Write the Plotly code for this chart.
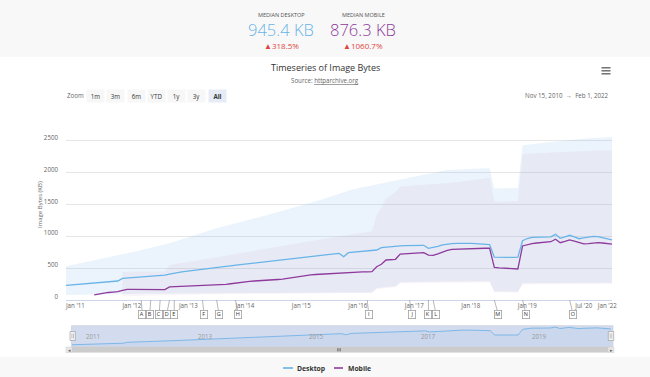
import plotly.graph_objects as go

# ---------------- data ----------------
categories = (['2010-11-15', '2010-12-01']
              + [f"{y}-{m:02d}-01" for y in range(2011, 2019) for m in range(1, 13)]
              + ['2019-01-01', '2019-02-15', '2019-04-01', '2019-05-15', '2019-07-01', '2019-08-15',
                 '2019-10-01', '2019-11-15', '2020-01-01', '2020-02-15', '2020-04-01', '2020-05-15',
                 '2020-07-01', '2020-11-01', '2021-03-01', '2021-07-01', '2021-10-01', '2022-01-01',
                 '2022-02-01'])

N = None
desktop_median = [230, 236,
    241, 247, 253, 258, 264, 270, 276, 282, 288, 298, 340, 345,
    351, 357, 362, 368, 374, 380, 386, 392, 405, 424, 434, 444,
    454, 464, 474, 484, 494, 504, 513, 523, 531, 539, 547, 555,
    562, 570, 577, 585, 594, 603, 611, 620, 628, 637, 646, 654,
    663, 671, 680, 689, 698, 707, 716, 724, 733, 680, 743, 750,
    757, 764, 771, 778, 785, 821, 830, 838, 845, 850, 852, 854,
    856, 857, 859, 812, 825, 840, 865, 879, 885, 890, 893, 895,
    890, 885, 880, 875, 870, 672, 668, 668, 670, 670, 672, 930,
    965, 984, 984, 985, 985, 990, 1031, 968, 990, 1016, 990, 962, 975,
    990, 1000, 995, 980, 960, 945]

mobile_median = [N, N,
    N, N, N, N, 80, 95, 110, 118, 124, 130, 150, 168,
    166, 165, 164, 163, 162, 161, 160, 162, 205, 208, 210, 213,
    216, 219, 222, 225, 228, 231, 233, 236, 245, 255, 266, 277,
    285, 292, 298, 305, 310, 314, 318, 322, 328, 340, 352, 365,
    378, 390, 395, 400, 405, 410, 415, 420, 423, 427, 430, 434,
    437, 440, 443, 446, 523, 560, 628, 635, 639, 722, 728, 732,
    736, 740, 743, 705, 700, 725, 758, 780, 796, 800, 803, 806,
    808, 810, 811, 812, 812, 513, 505, 500, 495, 490, 487, 848,
    870, 885, 895, 900, 905, 915, 953, 900, 920, 942, 925, 905, 880,
    885, 895, 900, 895, 885, 876]

desktop_high = [530, 545,
    560, 575, 590, 605, 620, 635, 650, 665, 680, 695, 715, 732,
    749, 766, 783, 800, 817, 834, 851, 868, 890, 915, 940, 964,
    988, 1012, 1036, 1060, 1090, 1110, 1128, 1146, 1164, 1182, 1200, 1220,
    1240, 1258, 1278, 1300, 1320, 1340, 1360, 1380, 1400, 1420, 1440, 1460,
    1480, 1500, 1520, 1543, 1570, 1595, 1620, 1645, 1670, 1695, 1720, 1740,
    1755, 1770, 1785, 1800, 1815, 1830, 1845, 1860, 1880, 1895, 1910, 1925,
    1940, 1955, 1970, 1985, 2000, 2010, 2025, 2040, 2045, 2050, 2055, 2060,
    2062, 2064, 2066, 2068, 2070, 1750, 1752, 1754, 1756, 1758, 1760, 2430,
    2440, 2445, 2450, 2460, 2470, 2480, 2490, 2495, 2500, 2505, 2510, 2520, 2530,
    2540, 2545, 2555, 2560, 2565, 2560]

desktop_low = [80, 80,
    82, 83, 84, 85, 86, 87, 88, 89, 90, 92, 95, 96,
    97, 98, 98, 99, 99, 100, 100, 101, 101, 102, 102, 103,
    103, 104, 104, 105, 105, 106, 106, 107, 107, 108, 108, 109,
    109, 110, 110, 110, 111, 111, 111, 112, 112, 112, 113, 113,
    113, 114, 114, 114, 115, 115, 115, 116, 116, 116, 117, 117,
    117, 118, 118, 118, 185, 195, 205, 210, 215, 280, 282, 284,
    285, 286, 287, 287, 288, 288, 289, 289, 290, 290, 291, 291,
    292, 292, 293, 293, 294, 135, 135, 134, 133, 132, 130, 262,
    262, 263, 263, 264, 264, 265, 265, 266, 266, 267, 267, 268, 268,
    268, 269, 269, 270, 270, 270]

mobile_high = [N, N,
    N, N, N, N, N, N, N, N, N, N, 445, 445,
    446, 447, 448, 448, 449, 450, 450, 452, 549, 560, 572, 584,
    596, 608, 620, 632, 645, 658, 671, 684, 697, 710, 723, 736,
    750, 765, 780, 795, 808, 820, 832, 845, 858, 870, 882, 894,
    906, 918, 930, 942, 954, 966, 978, 990, 1000, 1012, 1024, 1036,
    1048, 1060, 1070, 1080, 1334, 1450, 1596, 1640, 1700, 1779, 1785, 1790,
    1795, 1800, 1805, 1810, 1815, 1820, 1825, 1830, 1840, 1850, 1860, 1870,
    1880, 1890, 1900, 1910, 1920, 1543, 1545, 1546, 1547, 1548, 1550, 2290,
    2295, 2300, 2300, 2305, 2310, 2315, 2320, 2320, 2325, 2330, 2330, 2335, 2335,
    2340, 2340, 2345, 2345, 2350, 2345]

mobile_low = [N, N,
    N, N, N, N, N, N, N, N, N, N, 60, 62,
    64, 66, 67, 68, 69, 70, 71, 72, 78, 80, 81, 82,
    83, 84, 85, 86, 87, 88, 89, 90, 91, 92, 93, 94,
    95, 96, 97, 98, 99, 100, 100, 101, 101, 102, 102, 103,
    103, 104, 104, 105, 105, 106, 106, 107, 107, 108, 108, 109,
    109, 110, 110, 111, 170, 180, 190, 195, 200, 260, 262, 264,
    265, 266, 267, 267, 268, 268, 269, 269, 270, 270, 271, 271,
    272, 272, 273, 273, 274, 120, 120, 119, 118, 117, 115, 245,
    245, 246, 246, 247, 247, 248, 248, 249, 249, 250, 250, 251, 251,
    251, 252, 252, 253, 253, 253]

tick_dates = ['2011-01-01', '2012-01-01', '2013-01-01', '2014-01-01', '2015-01-01', '2016-01-01',
              '2017-01-01', '2018-01-01', '2019-01-01', '2020-07-01', '2022-01-01']
tick_labels = ["Jan '11", "Jan '12", "Jan '13", "Jan '14", "Jan '15", "Jan '16",
               "Jan '17", "Jan '18", "Jan '19", "Jul '20", "Jan '22"]
y_ticks = [0, 500, 1000, 1500, 2000, 2500]

nav_year_dates = ['2011-01-01', '2013-01-01', '2015-01-01', '2017-01-01', '2019-01-01']
nav_year_labels = ['2011', '2013', '2015', '2017', '2019']

flag_dates = ['2012-03-01', '2012-05-01', '2012-07-01', '2012-09-01', '2012-10-01', '2013-04-01',
              '2013-07-01', '2013-11-01', '2016-03-01', '2016-12-01', '2017-04-01', '2017-05-01',
              '2018-06-01', '2018-12-01', '2020-02-15']
flag_labels = list('ABCDEFGHIJKLMNO')
flag_box_shift = [1, -1, -1, -3, 0, 1.5, 2.5, 3, 1.5, 2, 0, 3, 4, 3.5, 3.5]  # style only

median_desktop_text = '945.4 KB'
median_desktop_change = '▲318.5%'
median_mobile_text = '876.3 KB'
median_mobile_change = '▲1060.7%'

# ---------------- styling ----------------
W, H = 650, 377
def px(x): return x / W
def py(y): return 1 - y / H

C_DESK = '#68b4e8'
C_MOB = '#8e3a9c'
FONT = 'Open Sans'

def pairs(vals):
    xs = [c for c, v in zip(categories, vals) if v is not None]
    ys = [v for v in vals if v is not None]
    return xs, ys

fig = go.Figure()
x, y = pairs(desktop_low)
fig.add_trace(go.Scatter(x=x, y=y, mode='lines', line=dict(width=0), hoverinfo='skip', showlegend=False))
x, y = pairs(desktop_high)
fig.add_trace(go.Scatter(x=x, y=y, mode='lines', line=dict(width=0), fill='tonexty',
                         fillcolor='rgba(124,181,236,0.15)', hoverinfo='skip', showlegend=False))
x, y = pairs(mobile_low)
fig.add_trace(go.Scatter(x=x, y=y, mode='lines', line=dict(width=0), hoverinfo='skip', showlegend=False))
x, y = pairs(mobile_high)
fig.add_trace(go.Scatter(x=x, y=y, mode='lines', line=dict(width=0), fill='tonexty',
                         fillcolor='rgba(175,100,150,0.065)', hoverinfo='skip', showlegend=False))
x, y = pairs(desktop_median)
fig.add_trace(go.Scatter(x=x, y=y, mode='lines', name='Desktop', line=dict(color=C_DESK, width=1.3), showlegend=False))
x, y = pairs(mobile_median)
fig.add_trace(go.Scatter(x=x, y=y, mode='lines', name='Mobile', line=dict(color=C_MOB, width=1.3), showlegend=False))
x, y = pairs(desktop_median)
fig.add_trace(go.Scatter(x=x, y=y, mode='lines', xaxis='x2', yaxis='y2', line=dict(color='#6aaee6', width=0.8),
                         fill='tozeroy', fillcolor='rgba(124,181,236,0.10)', hoverinfo='skip', showlegend=False))

n_last = len(categories) - 1
shapes = []
# white card (full width) between header and footer
shapes.append(dict(type='rect', xref='paper', yref='paper', x0=0, x1=1, y0=py(357), y1=py(57),
                   fillcolor='white', line=dict(width=0), layer='below'))
shapes.append(dict(type='rect', xref='paper', yref='paper', x0=px(71.5), x1=px(613), y0=py(346.5), y1=py(325.7),
                   fillcolor='#d3dcee', line=dict(color='#c4c8d2', width=0.6), layer='below'))
for hx in (72.7, 611):
    shapes.append(dict(type='rect', xref='paper', yref='paper', x0=px(hx - 2.7), x1=px(hx + 2.7),
                       y0=py(340.5), y1=py(331.5), fillcolor='#f2f2f2', line=dict(color='#999999', width=0.6)))
    for dx in (-0.8, 0.8):
        shapes.append(dict(type='line', xref='paper', yref='paper', x0=px(hx + dx), x1=px(hx + dx),
                           y0=py(338.5), y1=py(333.5), line=dict(color='#999999', width=0.5)))
shapes.append(dict(type='rect', xref='paper', yref='paper', x0=px(66), x1=px(614), y0=py(352.5), y1=py(347),
                   fillcolor='#f2f2f2', line=dict(width=0)))
shapes.append(dict(type='rect', xref='paper', yref='paper', x0=px(72), x1=px(608), y0=py(352.5), y1=py(347),
                   fillcolor='#cccccc', line=dict(width=0)))
for bx0, bx1 in ((66, 72), (608, 614)):
    shapes.append(dict(type='rect', xref='paper', yref='paper', x0=px(bx0), x1=px(bx1), y0=py(352.5), y1=py(347),
                       fillcolor='#e6e6e6', line=dict(color='#cccccc', width=0.5)))
for gx in (337.6, 339, 340.4):
    shapes.append(dict(type='line', xref='paper', yref='paper', x0=px(gx), x1=px(gx), y0=py(351.3), y1=py(348.2),
                       line=dict(color='#333333', width=0.5)))
for my in (67.8, 70.8, 73.8):
    shapes.append(dict(type='line', xref='paper', yref='paper', x0=px(601.5), x1=px(610.5), y0=py(my), y1=py(my),
                       line=dict(color='#666666', width=1.4)))
shapes.append(dict(type='line', xref='paper', yref='paper', x0=px(283), x1=px(293), y0=py(368), y1=py(368),
                   line=dict(color=C_DESK, width=1.6)))
shapes.append(dict(type='line', xref='paper', yref='paper', x0=px(334), x1=px(343), y0=py(368), y1=py(368),
                   line=dict(color=C_MOB, width=1.6)))
for d, s in zip(flag_dates, flag_box_shift):
    idx = categories.index(d)
    shapes.append(dict(type='line', xref='x', xsizemode='pixel', xanchor=idx, x0=0, x1=s,
                       yref='paper', y0=py(300), y1=py(314.5), line=dict(color='#999999', width=0.7)))

ann = []
def text(x, y, t, size=6.5, color='#666666', xanchor='center', weight='normal', **kw):
    ann.append(dict(xref='paper', yref='paper', x=px(x), y=py(y), text=t, showarrow=False,
                    xanchor=xanchor, yanchor='middle',
                    font=dict(size=size, color=color, family=FONT, weight=weight), **kw))

text(281, 15, 'MEDIAN DESKTOP', size=5.5, color='#555555')
text(281, 29, median_desktop_text, size=16.5, color=C_DESK, weight=300, height=18)
text(281, 45, median_desktop_change, size=8, color='#e0443e', height=10)
text(363, 15, 'MEDIAN MOBILE', size=5.5, color='#555555')
text(363, 29, median_mobile_text, size=16.5, color=C_MOB, weight=300, height=18)
text(363, 45, median_mobile_change, size=8, color='#e0443e', height=10)
text(325, 68, 'Timeseries of Image Bytes', size=9, color='#333333', weight=500)
text(325, 80, 'Source: <u>httparchive.org</u>', size=6.2, color='#666666')
text(75.5, 96, 'Zoom', size=6.2, color='#666666')
for bx, lab in zip((95.7, 116, 136, 156.5, 176.5, 196.8, 217), ('1m', '3m', '6m', 'YTD', '1y', '3y', 'All')):
    sel = lab == 'All'
    text(bx, 96, f'<b>{lab}</b>' if sel else lab, size=6.2, color='#333333',
         bgcolor='#e6ebf5' if sel else '#f7f7f7', width=15, height=10)
text(611, 96, 'Nov 15, 2010  →  Feb 1, 2022', size=6.2, color='#666666', xanchor='right')
ann.append(dict(xref='paper', yref='paper', x=px(34), y=py(205), text='Image Bytes (KB)', showarrow=False,
                textangle=-90, font=dict(size=6, color='#666666', family=FONT)))
for d, lab in zip(nav_year_dates, nav_year_labels):
    ann.append(dict(xref='x2', yref='paper', x=categories.index(d), y=py(343.2), text=lab, showarrow=False,
                    xanchor='left', xshift=3, font=dict(size=6.2, color='#999999', family=FONT)))
text(69, 349.8, '◂', size=5, color='#666666')
text(611, 349.8, '▸', size=5, color='#666666')
text(294.5, 368, '<b>Desktop</b>', size=6.8, color='#333333', xanchor='left')
text(345.5, 368, '<b>Mobile</b>', size=6.8, color='#333333', xanchor='left')
for d, lab, s in zip(flag_dates, flag_labels, flag_box_shift):
    ann.append(dict(xref='x', yref='paper', x=categories.index(d), y=py(318.9), text=lab, showarrow=False,
                    xshift=s, width=6, height=7, borderpad=0, bgcolor='white', bordercolor='#a0a0a0',
                    borderwidth=0.8, font=dict(size=5.5, color='#333333', family=FONT)))

fig.update_layout(
    width=W, height=H, margin=dict(l=0, r=0, t=0, b=0, autoexpand=False),
    paper_bgcolor='#f8f8f8', plot_bgcolor='rgba(0,0,0,0)',
    font=dict(family=FONT, color='#666666'),
    showlegend=False,
    xaxis=dict(domain=[px(66), px(612)], type='category', categoryorder='array', categoryarray=categories,
               range=[0, n_last], tickmode='array', tickvals=tick_dates, ticktext=tick_labels,
               tickfont=dict(size=6.2, color='#666666'), showgrid=False, zeroline=False,
               showline=True, linecolor='#ccd6eb', linewidth=1, ticks='', ticklabelstandoff=0),
    yaxis=dict(domain=[py(300), py(128)], range=[0, 2700], tickmode='array', tickvals=y_ticks,
               tickfont=dict(size=6.2, color='#666666'), gridcolor='#e6e6e6', gridwidth=1,
               zeroline=False, showline=False, ticks='', ticklabelstandoff=7, ticklabelshift=-3),
    xaxis2=dict(domain=[px(72), px(611)], anchor='y2', type='category', categoryorder='array',
                categoryarray=categories, range=[0, n_last], visible=False),
    yaxis2=dict(domain=[py(346.5), py(326)], anchor='x2', range=[150, 1080], visible=False),
    shapes=shapes, annotations=ann,
)

fig.write_html('out.html', config={'displayModeBar': False},
               post_script="document.body.style.margin='0';")
